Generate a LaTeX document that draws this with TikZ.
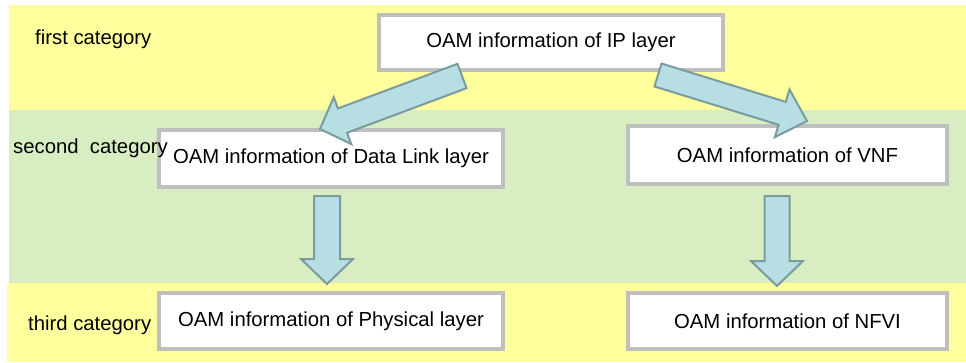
\documentclass[tikz,border=0pt]{standalone}
\usepackage{fontspec}
\setmainfont{Liberation Sans}
\usetikzlibrary{calc}
\definecolor{bandyellow}{RGB}{255,255,158}
\definecolor{bandgreen}{RGB}{217,237,194}
\definecolor{boxgray}{RGB}{191,191,191}
\definecolor{arrfill}{RGB}{183,222,226}
\definecolor{arrdraw}{RGB}{122,156,158}
\tikzset{
  infobox/.style={draw=boxgray, line width=4pt, fill=white, inner sep=0pt, outer sep=0pt,
    font=\fontsize{20.3}{24}\selectfont, text=black},
  catlabel/.style={anchor=west, inner sep=0pt, font=\fontsize{20.3}{24}\selectfont, text=black},
  barrow/.style={draw=arrdraw, line width=2pt, fill=arrfill, line join=miter},
}
\newcommand{\blockarr}[6]{%
  \coordinate (#1-h) at ($(#3)!#6!(#2)$);
  \draw[barrow] ($(#2)!#4!90:(#3)$) -- ($(#1-h)!#4!90:(#3)$) -- ($(#1-h)!#5!90:(#3)$)
    -- (#3) -- ($(#1-h)!#5!-90:(#3)$) -- ($(#1-h)!#4!-90:(#3)$) -- ($(#2)!#4!-90:(#3)$) -- cycle;
}
\begin{document}
\begin{tikzpicture}[x=1pt, y=-1pt]
\useasboundingbox (0,0) rectangle (966,362);
% bands
\fill[bandyellow] (9,5) rectangle (966,110);
\fill[bandgreen] (9,110) rectangle (966,283);
\fill[bandyellow] (7,283) rectangle (966,362);
% boxes
\node[infobox, minimum width=344pt, minimum height=55pt] (ip) at (551,42.5) {OAM information of IP layer};
\node[infobox, minimum width=344pt, minimum height=57pt] (dl) at (331,158.5) {OAM information of Data Link layer};
\node[infobox, minimum width=319pt, minimum height=58pt] (vnf) at (787.5,155) {OAM information of VNF};
\node[infobox, minimum width=344pt, minimum height=56pt] (phy) at (331,321) {OAM information of Physical layer};
\node[infobox, minimum width=319pt, minimum height=56pt] (nfvi) at (787.5,321) {OAM information of NFVI};
% labels
\node[catlabel] (l1) at (35,39) {first category};
\node[catlabel] (l2) at (13,148) {second\ \ category};
\node[catlabel] (l3) at (28,325) {third category};
% arrow end points
\coordinate (a1t) at (462,76);
\coordinate (a1p) at (320,129);
\coordinate (a2t) at (658,75);
\coordinate (a2p) at (807,121);
\coordinate (a3t) at (327,196);
\coordinate (a3p) at (327,284);
\coordinate (a4t) at (777,196);
\coordinate (a4p) at (777,286);
\blockarr{a1}{a1t}{a1p}{13pt}{25pt}{24pt}
\blockarr{a2}{a2t}{a2p}{12pt}{25pt}{26pt}
\blockarr{a3}{a3t}{a3p}{13pt}{26pt}{25pt}
\blockarr{a4}{a4t}{a4p}{12.5pt}{26pt}{25pt}
\end{tikzpicture}
\end{document}
